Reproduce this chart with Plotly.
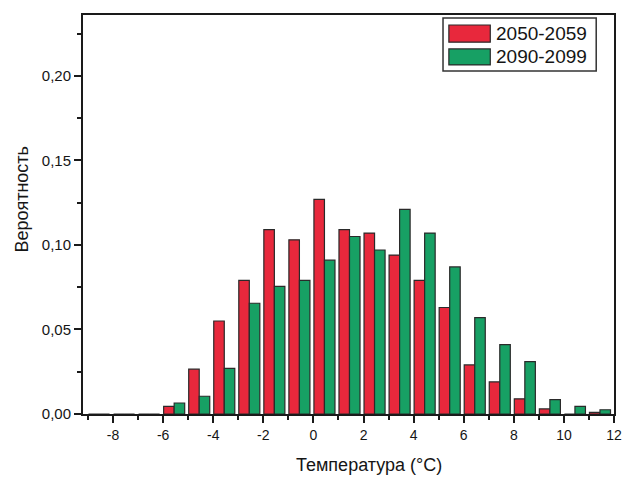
import plotly.graph_objects as go

# Temperature bins (lower edge, °C) and probability of each bin
bins = list(range(-9, 12))
series_names = ["2050-2059", "2090-2099"]
prob_2050 = [0.0, 0.0, 0.0, 0.0045, 0.0265, 0.055, 0.079, 0.109, 0.103, 0.127,
             0.109, 0.107, 0.094, 0.079, 0.063, 0.029, 0.019, 0.009, 0.003, 0.0, 0.001]
prob_2090 = [0.0, 0.0, 0.0, 0.0065, 0.0105, 0.027, 0.0655, 0.0755, 0.079, 0.091,
             0.105, 0.097, 0.121, 0.107, 0.087, 0.057, 0.041, 0.031, 0.0085, 0.0045, 0.0025]
x_ticks = [-8, -6, -4, -2, 0, 2, 4, 6, 8, 10, 12]
y_ticks = [0.0, 0.05, 0.10, 0.15, 0.20]

RED = "#e8283c"
GREEN = "#17a064"
EDGE = "#2a2a2a"
INK = "#151515"
FONT = "Liberation Sans, Arial, sans-serif"

fig = go.Figure()
fig.add_trace(go.Bar(x=bins, y=prob_2050, name=series_names[0], offset=0.02, width=0.42,
                     marker=dict(color=RED, line=dict(color=EDGE, width=1.2))))
fig.add_trace(go.Bar(x=bins, y=prob_2090, name=series_names[1], offset=0.44, width=0.42,
                     marker=dict(color=GREEN, line=dict(color=EDGE, width=1.2))))

axis_common = dict(showline=True, linecolor="#1a1a1a", linewidth=2, mirror=True,
                   showgrid=False, zeroline=False, ticks="outside", tickwidth=1.5,
                   tickcolor="#1a1a1a", ticklen=7)

fig.update_xaxes(range=[-9.2, 12], tickmode="array", tickvals=x_ticks,
                 ticktext=[str(v) for v in x_ticks],
                 tickfont=dict(family=FONT, size=14, color=INK),
                 minor=dict(tick0=0, dtick=1, ticks="outside", ticklen=4,
                            tickwidth=1.5, tickcolor="#1a1a1a"),
                 **axis_common)
fig.update_yaxes(range=[0, 0.236], tickmode="array", tickvals=y_ticks, tickformat=".2f",
                 tickfont=dict(family=FONT, size=15, color=INK),
                 minor=dict(tick0=0, dtick=0.025, ticks="outside", ticklen=4,
                            tickwidth=1.5, tickcolor="#1a1a1a"),
                 **axis_common)

# Legend drawn as a framed box with wide swatches
shapes = [dict(type="rect", xref="paper", yref="paper", x0=0.678, x1=0.9665, y0=0.8596, y1=0.9925,
               line=dict(color="#333", width=1.5), fillcolor="white")]
annotations = []
for name, color, y0, y1 in [(series_names[0], RED, 0.932, 0.975), (series_names[1], GREEN, 0.875, 0.915)]:
    shapes.append(dict(type="rect", xref="paper", yref="paper", x0=0.689, x1=0.767, y0=y0, y1=y1,
                       line=dict(color=EDGE, width=1.2), fillcolor=color))
    annotations.append(dict(text=name, xref="paper", yref="paper", x=0.7745, y=(y0 + y1) / 2,
                            xanchor="left", yanchor="middle", showarrow=False,
                            font=dict(family=FONT, size=19, color=INK)))

annotations.append(dict(text="Температура (°C)", xref="paper", yref="paper", x=0.538, y=-0.128,
                        xanchor="center", yanchor="middle", showarrow=False,
                        font=dict(family=FONT, size=18, color=INK)))
annotations.append(dict(text="Вероятность", xref="paper", yref="paper", x=-0.1155, y=0.539,
                        xanchor="center", yanchor="middle", showarrow=False, textangle=-90,
                        font=dict(family=FONT, size=18, color=INK)))

fig.update_layout(width=634, height=477, margin=dict(l=83, r=14, t=15, b=63),
                  paper_bgcolor="white", plot_bgcolor="white", barmode="overlay",
                  showlegend=False, separators=", ", shapes=shapes, annotations=annotations,
                  font=dict(family=FONT))

fig.write_html("out.html")
